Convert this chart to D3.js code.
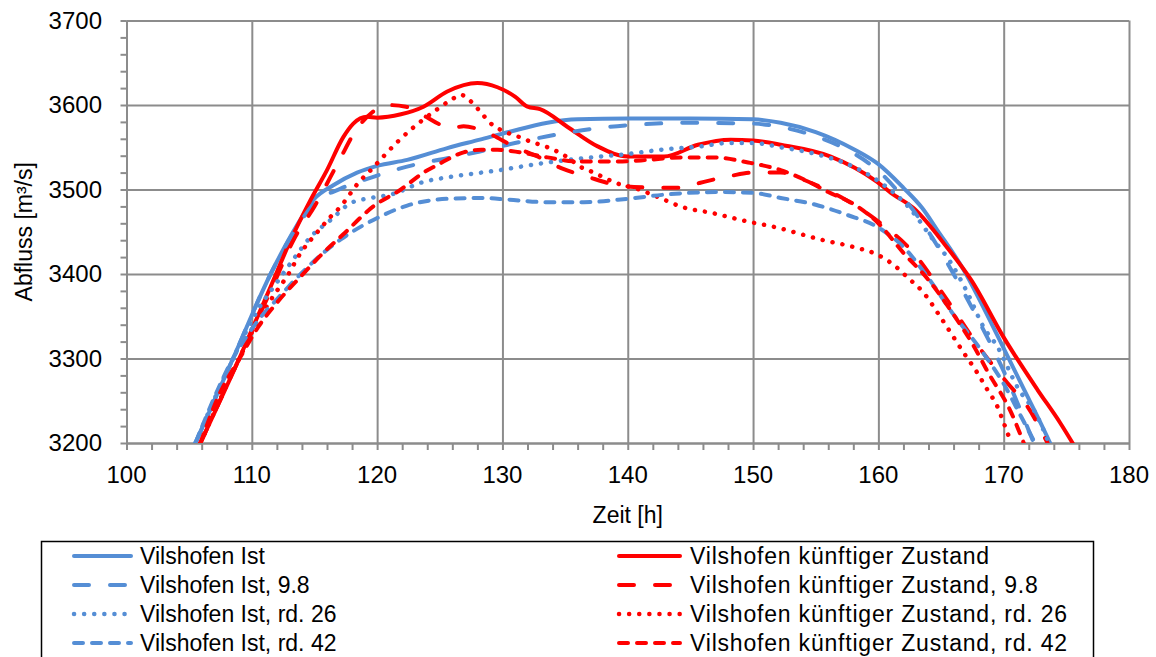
<!DOCTYPE html>
<html>
<head>
<meta charset="utf-8">
<script src="https://cdn.jsdelivr.net/npm/d3@7"></script>
<style>
body { margin: 0; background: #fff; }
text { font-family: "Liberation Sans", Arial, sans-serif; fill: #000; }
</style>
</head>
<body>
<svg id="chart" width="1156" height="657"></svg>
<script>
// tick values
var xTicks = [100, 110, 120, 130, 140, 150, 160, 170, 180];
var yTicks = [3200, 3300, 3400, 3500, 3600, 3700];

// series values [Zeit h, Abfluss m3/s]
var ist = [[105.5,3200],[108.5,3300],[111.5,3400],[113.5,3455],[115,3489],[116.5,3505],[118.4,3520],[120,3528],[122.4,3535],[125.6,3549],[128.2,3559],[130.5,3568],[133.6,3579],[136,3583],[140,3584],[145,3584],[150,3583],[152.2,3579],[155,3568],[158,3548],[160,3530],[162,3502],[163.5,3478],[164.7,3452],[166.8,3405],[168.4,3360],[170,3312],[171.6,3264],[173.2,3216],[173.7,3200]];
var ist98 = [[105.5,3200],[108.5,3300],[111.5,3400],[113.5,3453],[115,3484],[117.1,3501],[119.7,3515],[122.9,3529],[125.6,3537],[128.2,3545],[131,3555],[133.6,3563],[137.8,3573],[140,3576],[145,3579],[150,3578],[152.2,3574],[155,3563],[158,3543],[160,3522],[162,3490],[164,3450],[166,3400],[168,3345],[170,3285],[172.4,3200]];
var ist26 = [[105.5,3200],[108.5,3300],[110.5,3358],[112,3390],[113.3,3417],[114.7,3444],[116.3,3464],[117.9,3484],[119.5,3490],[121.1,3494],[123.7,3509],[125.9,3515],[129.8,3523],[133.6,3532],[137.8,3539],[140,3542],[142.6,3547],[145.8,3551],[148,3555],[150,3555],[152.2,3550],[155,3542],[158,3527],[160,3510],[162.6,3476],[164.2,3444],[165.8,3413],[167.1,3378],[168.4,3337],[169.5,3314],[171.1,3266],[172.7,3231],[173.6,3200]];
var ist42 = [[105.5,3200],[108.5,3300],[110.5,3345],[112,3370],[113.9,3400],[115.7,3425],[117.1,3441],[119.7,3464],[122.4,3481],[125.6,3489],[128.3,3490],[130.5,3488],[133.6,3485],[136.5,3485],[140,3489],[143,3494],[147,3497],[150,3496],[152.2,3490],[155,3482],[157.5,3470],[160,3455],[162,3432],[164,3395],[166,3352],[168.2,3310],[170,3270],[171.4,3231],[172.5,3200]];
var kuenftig = [[105.9,3200],[109,3300],[111.5,3385],[113.1,3440],[114.7,3488],[116,3523],[117.3,3562],[118.1,3578],[119.2,3586],[120,3585],[121.9,3589],[123.7,3598],[125.6,3616],[128,3626],[129.6,3621],[131,3610],[132,3598],[133,3595],[135.2,3574],[137.6,3551],[140,3539],[142.9,3539],[145.6,3553],[148.2,3559],[150,3558],[152.2,3553],[156.2,3539],[159.9,3509],[161,3496],[162.8,3478],[165.5,3431],[167.4,3393],[170,3325],[172.7,3263],[174.5,3224],[175.5,3200]];
var kuenftig98 = [[105.9,3200],[109,3300],[111.5,3380],[113.5,3445],[115,3480],[117,3535],[118.3,3570],[119.5,3590],[120.8,3600],[122.3,3598],[123.9,3586],[125,3577],[126.1,3573],[126.9,3575],[128.8,3567],[130.9,3551],[132.8,3539],[134.9,3524],[136.8,3515],[138.9,3506],[140.5,3503],[142.9,3502],[144.2,3502],[145.8,3508],[148.2,3516],[150,3520],[152.2,3520],[154.6,3508],[157,3491],[160,3462],[162.8,3425],[165.5,3369],[168.2,3310],[170.3,3271],[171.9,3243],[173.5,3200]];
var kuenftig26 = [[105.9,3200],[109,3300],[110.5,3345],[112,3380],[112.8,3397],[113.9,3425],[115.2,3449],[116.3,3468],[117.1,3480],[117.9,3496],[118.4,3506],[119.5,3523],[120.5,3539],[121.6,3556],[122.7,3571],[123.7,3583],[124.8,3595],[125.9,3606],[126.7,3612],[127.5,3604],[128.3,3591],[129,3579],[129.8,3571],[131.2,3563],[132.2,3557],[133.6,3550],[135.2,3538],[136.2,3527],[137.3,3520],[138.4,3512],[139.4,3506],[140.5,3502],[141.6,3496],[142.9,3488],[144.2,3480],[146.8,3472],[149.6,3462],[151.6,3456],[155.6,3440],[158,3432],[159.9,3423],[161.2,3411],[162.4,3395],[163.6,3378],[165,3348],[166.8,3307],[167.9,3283],[168.7,3263],[169.5,3243],[170,3224],[170.6,3200]];
var kuenftig42 = [[105.9,3200],[107.3,3254],[109.1,3302],[110.5,3337],[112,3366],[113.9,3397],[115.7,3425],[117.3,3447],[119.7,3480],[121.9,3500],[123.7,3520],[124.8,3529],[126.9,3544],[128.3,3547],[129.6,3547],[131.4,3544],[133.6,3538],[136.2,3533],[138.9,3533],[141.6,3535],[144.2,3538],[146.8,3538],[149.6,3532],[152.2,3523],[154.6,3508],[156,3497],[158,3483],[160,3460],[162,3425],[164,3393],[166,3352],[167.6,3315],[168.7,3285],[170.6,3236],[171.6,3200]];

var blue = "#558ed5", red = "#ff0000";
var solid = null, longDash = "15,21", dotted = "0.1,10", shortDash = "9,9";

// excel order: Ist, künftig, Ist 9.8, künftig 9.8, ...
var series = [
    {name: "Vilshofen Ist", data: ist, color: blue, dash: solid},
    {name: "Vilshofen künftiger Zustand", data: kuenftig, color: red, dash: solid},
    {name: "Vilshofen Ist, 9.8", data: ist98, color: blue, dash: longDash},
    {name: "Vilshofen künftiger Zustand, 9.8", data: kuenftig98, color: red, dash: longDash},
    {name: "Vilshofen Ist, rd. 26", data: ist26, color: blue, dash: dotted},
    {name: "Vilshofen künftiger Zustand, rd. 26", data: kuenftig26, color: red, dash: dotted},
    {name: "Vilshofen Ist, rd. 42", data: ist42, color: blue, dash: shortDash},
    {name: "Vilshofen künftiger Zustand, rd. 42", data: kuenftig42, color: red, dash: shortDash}
];

var svg = d3.select("#chart");
var plotLeft = 126.5, plotRight = 1129, plotTop = 20.5, plotBottom = 443;
var gridColor = "#8c8c8c";

var x = d3.scaleLinear().domain([100, 180]).range([plotLeft, plotRight]);
var y = d3.scaleLinear().domain([3200, 3700]).range([plotBottom, plotTop]);

svg.append("rect").attr("width", 1156).attr("height", 657).attr("fill", "#fff");

// gridlines
svg.append("g").attr("transform", `translate(0,${plotTop})`)
    .call(d3.axisBottom(x).tickValues(xTicks).tickSize(plotBottom - plotTop).tickFormat(""))
    .call(g => g.select(".domain").remove())
    .selectAll("line").attr("stroke", gridColor).attr("stroke-width", 2);
svg.append("g").attr("transform", `translate(${plotRight},0)`)
    .call(d3.axisLeft(y).tickValues(yTicks).tickSize(plotRight - plotLeft).tickFormat(""))
    .call(g => g.select(".domain").remove())
    .selectAll("line").attr("stroke", gridColor).attr("stroke-width", 2);

// minor ticks
var xMinor = d3.range(100, 181, 2);
var yMinor = d3.range(3200, 3701, 20);
svg.append("g").attr("transform", `translate(0,${plotBottom})`)
    .call(d3.axisBottom(x).tickValues(xMinor).tickSize(7).tickFormat("").tickSizeOuter(0))
    .call(g => g.selectAll("line, path").attr("stroke", gridColor).attr("stroke-width", 2));
svg.append("g").attr("transform", `translate(${plotLeft},0)`)
    .call(d3.axisLeft(y).tickValues(yMinor).tickSize(6).tickFormat("").tickSizeOuter(0))
    .call(g => g.selectAll("line, path").attr("stroke", gridColor).attr("stroke-width", 2));

// tick labels
svg.append("g").selectAll("text").data(xTicks).join("text")
    .attr("x", d => x(d)).attr("y", 483)
    .attr("text-anchor", "middle").attr("font-size", 24)
    .text(d => d);
svg.append("g").selectAll("text").data(yTicks).join("text")
    .attr("x", 102).attr("y", d => y(d)).attr("dy", "0.35em")
    .attr("text-anchor", "end").attr("font-size", 24)
    .text(d => d);

// axis titles
svg.append("text").attr("x", x(140)).attr("y", 523)
    .attr("text-anchor", "middle").attr("font-size", 23).text("Zeit [h]");
svg.append("text").attr("transform", `translate(32,${y(3450)}) rotate(-90)`)
    .attr("text-anchor", "middle").attr("font-size", 23).text("Abfluss [m³/s]");

// lines
svg.append("clipPath").attr("id", "plot")
    .append("rect").attr("x", plotLeft).attr("y", plotTop)
    .attr("width", plotRight - plotLeft).attr("height", plotBottom - plotTop);

var line = d3.line().x(d => x(d[0])).y(d => y(d[1])).curve(d3.curveMonotoneX);

svg.append("g").attr("clip-path", "url(#plot)")
    .selectAll("path").data(series).join("path")
    .attr("d", d => line(d.data))
    .attr("fill", "none")
    .attr("stroke", d => d.color)
    .attr("stroke-width", d => d.dash == dotted ? 4.5 : 4)
    .attr("stroke-linecap", "round")
    .attr("stroke-linejoin", "round")
    .attr("stroke-dasharray", d => d.dash);

// legend
svg.append("rect").attr("x", 41.5).attr("y", 541.5).attr("width", 1052).attr("height", 140)
    .attr("fill", "#fff").attr("stroke", "#000").attr("stroke-width", 1.5);

var legendRows = [556, 585, 614, 643];
var legendCols = [{x1: 74, x2: 131, tx: 140, ls: 0}, {x1: 619, x2: 680, tx: 690, ls: 0.8}];

var items = svg.append("g").selectAll("g").data(series).join("g")
    .attr("transform", (d, i) => `translate(0,${legendRows[Math.floor(i / 2)]})`);
items.append("line")
    .attr("x1", (d, i) => legendCols[i % 2].x1).attr("x2", (d, i) => legendCols[i % 2].x2)
    .attr("stroke", d => d.color)
    .attr("stroke-width", d => d.dash == dotted ? 4.5 : 4)
    .attr("stroke-linecap", "round")
    .attr("stroke-dasharray", d => d.dash);
items.append("text")
    .attr("x", (d, i) => legendCols[i % 2].tx).attr("dy", "0.35em")
    .attr("font-size", 23)
    .attr("letter-spacing", (d, i) => legendCols[i % 2].ls)
    .text(d => d.name);
</script>
</body>
</html>
